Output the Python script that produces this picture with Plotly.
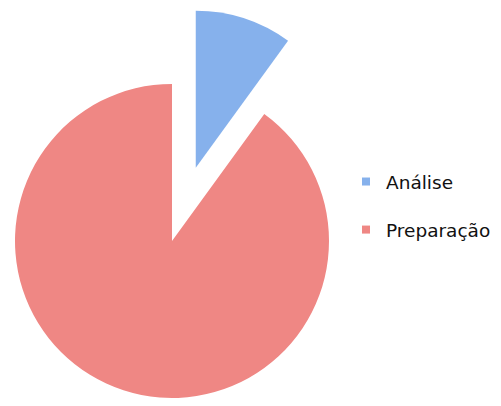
import math
import plotly.graph_objects as go

# ---- data ----
labels = ["Análise", "Preparação"]
values = [10, 90]
colors = ["#86b1ec", "#ef8784"]
pulled_label = "Análise"
pull_fraction = 0.49

# ---- layout geometry (pixels) ----
W, H = 501, 406
CX, CY, R = 172, 241, 157   # centre of the unpulled pie, from the top-left corner

TRANSPARENT = "rgba(0,0,0,0)"


def domain_for(cx, cy, r):
    return dict(x=[(cx - r) / W, (cx + r) / W],
                y=[(H - cy - r) / H, (H - cy + r) / H])


# bisector angle of the pulled slice (clockwise from 12 o'clock)
total = sum(values)
idx = labels.index(pulled_label)
start = sum(values[:idx]) / total
mid = (start + values[idx] / total / 2) * 2 * math.pi
dx = math.sin(mid) * pull_fraction * R
dy = -math.cos(mid) * pull_fraction * R

fig = go.Figure()

# main pie: every slice except the pulled one
fig.add_trace(go.Pie(
    labels=labels, values=values, sort=False, direction="clockwise", rotation=0,
    marker=dict(colors=[TRANSPARENT if l == pulled_label else c for l, c in zip(labels, colors)],
                line=dict(width=0)),
    textinfo="none", hoverinfo="label+percent", showlegend=False,
    domain=domain_for(CX, CY, R),
))

# pulled-out slice
fig.add_trace(go.Pie(
    labels=labels, values=values, sort=False, direction="clockwise", rotation=0,
    marker=dict(colors=[c if l == pulled_label else TRANSPARENT for l, c in zip(labels, colors)],
                line=dict(width=0)),
    textinfo="none", hoverinfo="label+percent", showlegend=False,
    domain=domain_for(CX + dx, CY + dy, R),
))

# legend entries
for l, c in zip(labels, colors):
    fig.add_trace(go.Scatter(
        x=[None], y=[None], mode="markers", name=l, legendgroup=l,
        marker=dict(symbol="square", size=8, color=c),
        showlegend=True,
    ))

fig.update_layout(
    width=W, height=H,
    margin=dict(l=0, r=0, t=0, b=0, pad=0, autoexpand=False),
    paper_bgcolor="white", plot_bgcolor="white",
    xaxis=dict(visible=False), yaxis=dict(visible=False),
    legend=dict(
        x=354 / W, xanchor="left",
        y=(H - 163) / H, yanchor="top",
        font=dict(family="DejaVu Sans", size=18.5, color="#111111"),
        tracegroupgap=21, bgcolor="rgba(0,0,0,0)", borderwidth=0,
        indentation=-8,
        itemclick=False, itemdoubleclick=False,
    ),
)

fig.write_html(
    "out.html",
    config={"displayModeBar": False},
    post_script="document.body.style.margin='0';document.body.style.overflow='hidden';",
)
